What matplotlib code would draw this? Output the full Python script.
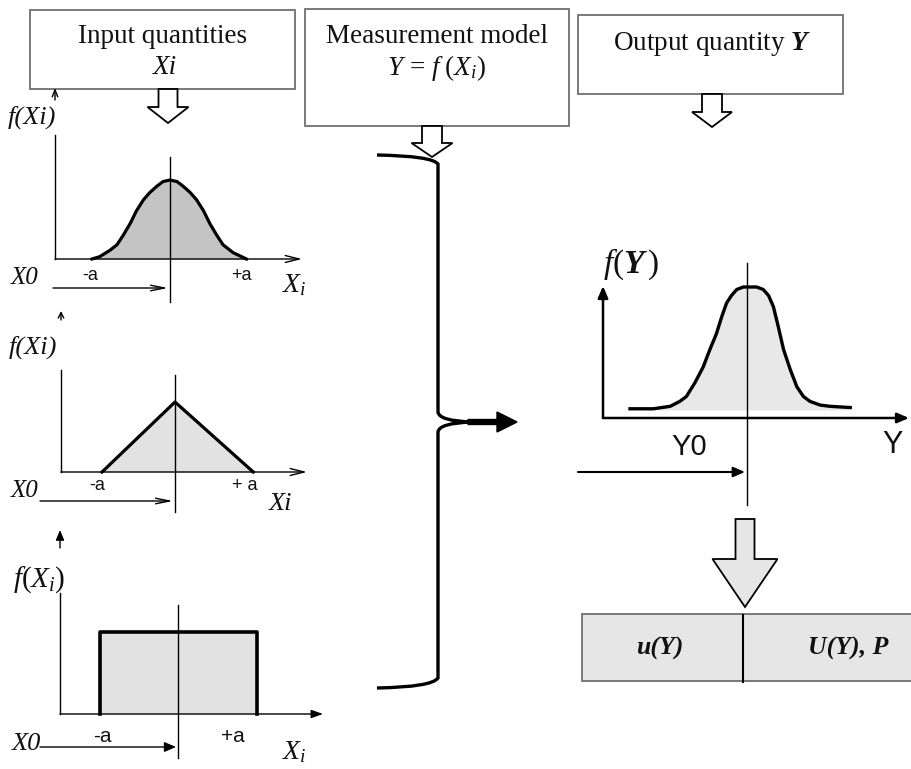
import matplotlib
matplotlib.use("Agg")
import matplotlib.pyplot as plt
from matplotlib.patches import Rectangle, FancyArrow, PathPatch
from matplotlib.path import Path
from matplotlib.transforms import Affine2D

plt.rcParams["mathtext.fontset"] = "custom"
plt.rcParams["mathtext.rm"] = "Liberation Serif"
plt.rcParams["mathtext.it"] = "Liberation Serif:italic"
plt.rcParams["mathtext.bf"] = "Liberation Serif:italic:bold"

SERIF = "Liberation Serif"
SANS = "Liberation Sans"
NARROW = ["Liberation Sans Narrow", "Liberation Sans"]

# distribution shapes: x in units of a (centre = 0), y relative to the peak
NORMAL_X = [-1.0, -0.90, -0.77, -0.68, -0.60, -0.51, -0.43, -0.34, -0.26, -0.17, -0.09, 0.0,
            0.09, 0.17, 0.26, 0.34, 0.43, 0.51, 0.60, 0.68, 0.81, 0.98]
NORMAL_Y = [0.0, 0.03, 0.11, 0.18, 0.30, 0.45, 0.61, 0.75, 0.84, 0.92, 0.98, 1.0,
            0.98, 0.92, 0.84, 0.75, 0.61, 0.45, 0.30, 0.18, 0.08, 0.0]
TRIANGLE_X = [-0.96, 0.0, 1.03]
TRIANGLE_Y = [0.0, 1.0, 0.0]
RECT_X = [-1.0, -1.0, 1.01, 1.01]
RECT_Y = [0.0, 1.0, 1.0, 0.0]
OUTPUT_X = [-1.95, -1.56, -1.28, -1.12, -1.01, -0.87, -0.73, -0.62, -0.51, -0.42, -0.34, -0.26,
            -0.17, -0.06, 0.05, 0.16, 0.27, 0.36, 0.44, 0.52, 0.61, 0.72, 0.83, 0.94, 1.05,
            1.22, 1.38, 1.72]
OUTPUT_Y = [0.01, 0.01, 0.03, 0.07, 0.11, 0.22, 0.35, 0.49, 0.62, 0.76, 0.87, 0.93,
            0.98, 1.0, 1.0, 1.0, 0.98, 0.93, 0.84, 0.68, 0.49, 0.33, 0.19, 0.11, 0.07,
            0.04, 0.03, 0.02]

BOX_TITLES = ["Input quantities", "Measurement model", "Output quantity "]
RESULT_LABELS = ["u(Y)", "U(Y), P"]


def arrow(ax, start, end, style="->", lw=1.0, hl=0.6, hw=0.25):
    ax.annotate("", xy=end, xytext=start,
                arrowprops=dict(arrowstyle=f"{style},head_length={hl},head_width={hw}",
                                lw=lw, color="black", shrinkA=0, shrinkB=0))


def block_arrow(ax, x, y, length, width, head_width, head_length, face="white"):
    ax.add_patch(FancyArrow(x, y, 0, length, width=width, head_width=head_width,
                            head_length=head_length, length_includes_head=True,
                            facecolor=face, edgecolor="black", lw=1.3, zorder=3))


def frame(ax, cx, base, sx, sy):
    return Affine2D().scale(sx, -sy).translate(cx, base) + ax.transData


def box(ax, x0, y0, x1, y1, face="white"):
    ax.add_patch(Rectangle((x0, y0), x1 - x0, y1 - y0, facecolor=face,
                           edgecolor="#707070", lw=1.3, zorder=1))


def label(ax, x, y, s, size, ha="left", family=SERIF, style="normal", weight="normal"):
    ax.text(x, y, s, ha=ha, va="baseline", fontsize=size, family=family,
            style=style, weight=weight, color="#111111")


fig = plt.figure(figsize=(9.12, 7.69), dpi=100)
ax = fig.add_axes([0, 0, 1, 1])
ax.set_xlim(0, 912)
ax.set_ylim(769, 0)
ax.axis("off")

# header boxes
box(ax, 30, 10, 295, 89)
label(ax, 163, 43, BOX_TITLES[0], 19.5, ha="center")
label(ax, 165, 74, "Xi", 19.5, ha="center", style="italic")
box(ax, 305, 9, 569, 126)
label(ax, 437, 43, BOX_TITLES[1], 19.5, ha="center")
label(ax, 437, 75, r"$Y\,=\,f\;(X_i)$", 19.5, ha="center")
box(ax, 578, 15, 843, 94)
label(ax, 712, 50, BOX_TITLES[2] + r"$\mathbf{Y}$", 19.5, ha="center")

block_arrow(ax, 168, 89, 34, 19, 41, 16)
block_arrow(ax, 432, 126, 31, 20, 41, 14)
block_arrow(ax, 712, 94, 33, 20, 40, 15)

# chart 1: normal input
t1 = frame(ax, 170, 259, 78, 79)
ax.fill_between(NORMAL_X, NORMAL_Y, 0, color="#c4c4c4", transform=t1, lw=0)
ax.plot(NORMAL_X, NORMAL_Y, color="black", lw=2.3, transform=t1, solid_joinstyle="round")
ax.plot([55, 55], [135, 259], color="black", lw=1)
arrow(ax, (55, 100), (55, 88), hl=0.5, hw=0.2)
arrow(ax, (55, 259), (302, 259), hl=1.0, hw=0.25)
ax.plot([170, 170], [157, 302], color="black", lw=1)
arrow(ax, (53, 288), (168, 288), hl=1.0, hw=0.2)
label(ax, 8, 124, "f(Xi)", 19, style="italic")
label(ax, 11, 284, "X0", 18, style="italic")
label(ax, 90, 280, "-a", 13, ha="center", family=NARROW)
label(ax, 241, 280, "+a", 13, ha="center", family=NARROW)
label(ax, 282, 292, r"$X_i$", 20)

# chart 2: triangular input
t2 = frame(ax, 175, 472, 76, 70)
ax.fill(TRIANGLE_X, TRIANGLE_Y, color="#e2e2e2", transform=t2, lw=0)
ax.plot(TRIANGLE_X, TRIANGLE_Y, color="black", lw=2.3, transform=t2)
ax.plot([61, 61], [370, 472], color="black", lw=1)
arrow(ax, (61, 320), (61, 311), hl=0.4, hw=0.2)
arrow(ax, (61, 472), (307, 472), hl=1.0, hw=0.25)
ax.plot([175, 175], [375, 512], color="black", lw=1)
arrow(ax, (40, 501), (173, 501), hl=1.0, hw=0.2)
label(ax, 9, 354, "f(Xi)", 19, style="italic")
label(ax, 11, 497, "X0", 18, style="italic")
label(ax, 97, 490, "-a", 13, ha="center", family=NARROW)
label(ax, 245, 490, "+ a", 13, ha="center", family=NARROW)
label(ax, 269, 510, "Xi", 19, style="italic")

# chart 3: rectangular input
t3 = frame(ax, 178, 714, 78, 82)
ax.fill(RECT_X, RECT_Y, color="#e2e2e2", transform=t3, lw=0)
ax.plot(RECT_X, RECT_Y, color="black", lw=2.6, transform=t3)
ax.plot([60, 60], [593, 714], color="black", lw=1)
arrow(ax, (60, 548), (60, 530), style="-|>", hl=0.6, hw=0.25)
arrow(ax, (60, 714), (323, 714), style="-|>", hl=0.7, hw=0.25)
ax.plot([178, 178], [605, 758], color="black", lw=1)
arrow(ax, (40, 747), (176, 747), style="-|>", hl=0.7, hw=0.3)
label(ax, 13, 587, r"$f(X_i)$", 21)
label(ax, 12, 750, "X0", 19, style="italic")
label(ax, 102, 742, "-a", 15, ha="center", family=NARROW)
label(ax, 233, 742, "+a", 15, ha="center", family=NARROW)
label(ax, 282, 759, r"$X_i$", 20)

# brace gathering the inputs
brace = Path(
    [(377, 155), (432, 156), (438, 164), (438, 412), (439, 421), (472, 422),
     (472, 422), (439, 423), (438, 432), (438, 678), (432, 687), (377, 688)],
    [Path.MOVETO, Path.CURVE3, Path.CURVE3, Path.LINETO, Path.CURVE3, Path.CURVE3,
     Path.MOVETO, Path.CURVE3, Path.CURVE3, Path.LINETO, Path.CURVE3, Path.CURVE3])
ax.add_patch(PathPatch(brace, facecolor="none", edgecolor="black", lw=2.4))
ax.add_patch(FancyArrow(468, 422, 49, 0, width=5, head_width=20, head_length=20,
                        length_includes_head=True, color="black"))

# output chart
t4 = frame(ax, 747, 410, 60, 123)
ax.fill_between(OUTPUT_X, OUTPUT_Y, 0, color="#e8e8e8", transform=t4, lw=0)
ax.plot(OUTPUT_X, OUTPUT_Y, color="black", lw=2.4, transform=t4, solid_joinstyle="round")
arrow(ax, (603, 418), (603, 286), style="-|>", lw=1.8, hl=0.7, hw=0.3)
arrow(ax, (603, 418), (909, 418), style="-|>", lw=1.8, hl=0.7, hw=0.3)
ax.plot([747, 747], [263, 505], color="black", lw=1)
arrow(ax, (578, 472), (745, 472), style="-|>", lw=1.5, hl=0.7, hw=0.3)
label(ax, 603, 273, r"$f(\mathbf{Y}\,)$", 24)
label(ax, 671, 455, "Y0", 21, family=SANS)
label(ax, 893, 453, "Y", 22, ha="center", family=SANS)

# result box
block_arrow(ax, 745, 519, 88, 19, 65, 48, face="#e6e6e6")
box(ax, 582, 614, 930, 681, face="#e6e6e6")
ax.plot([743, 743], [615, 682], color="black", lw=1.5)
label(ax, 660, 655, RESULT_LABELS[0], 18.5, ha="center", style="italic", weight="bold")
label(ax, 848, 655, RESULT_LABELS[1], 18.5, ha="center", style="italic", weight="bold")

fig.savefig("out.png", dpi=100)
